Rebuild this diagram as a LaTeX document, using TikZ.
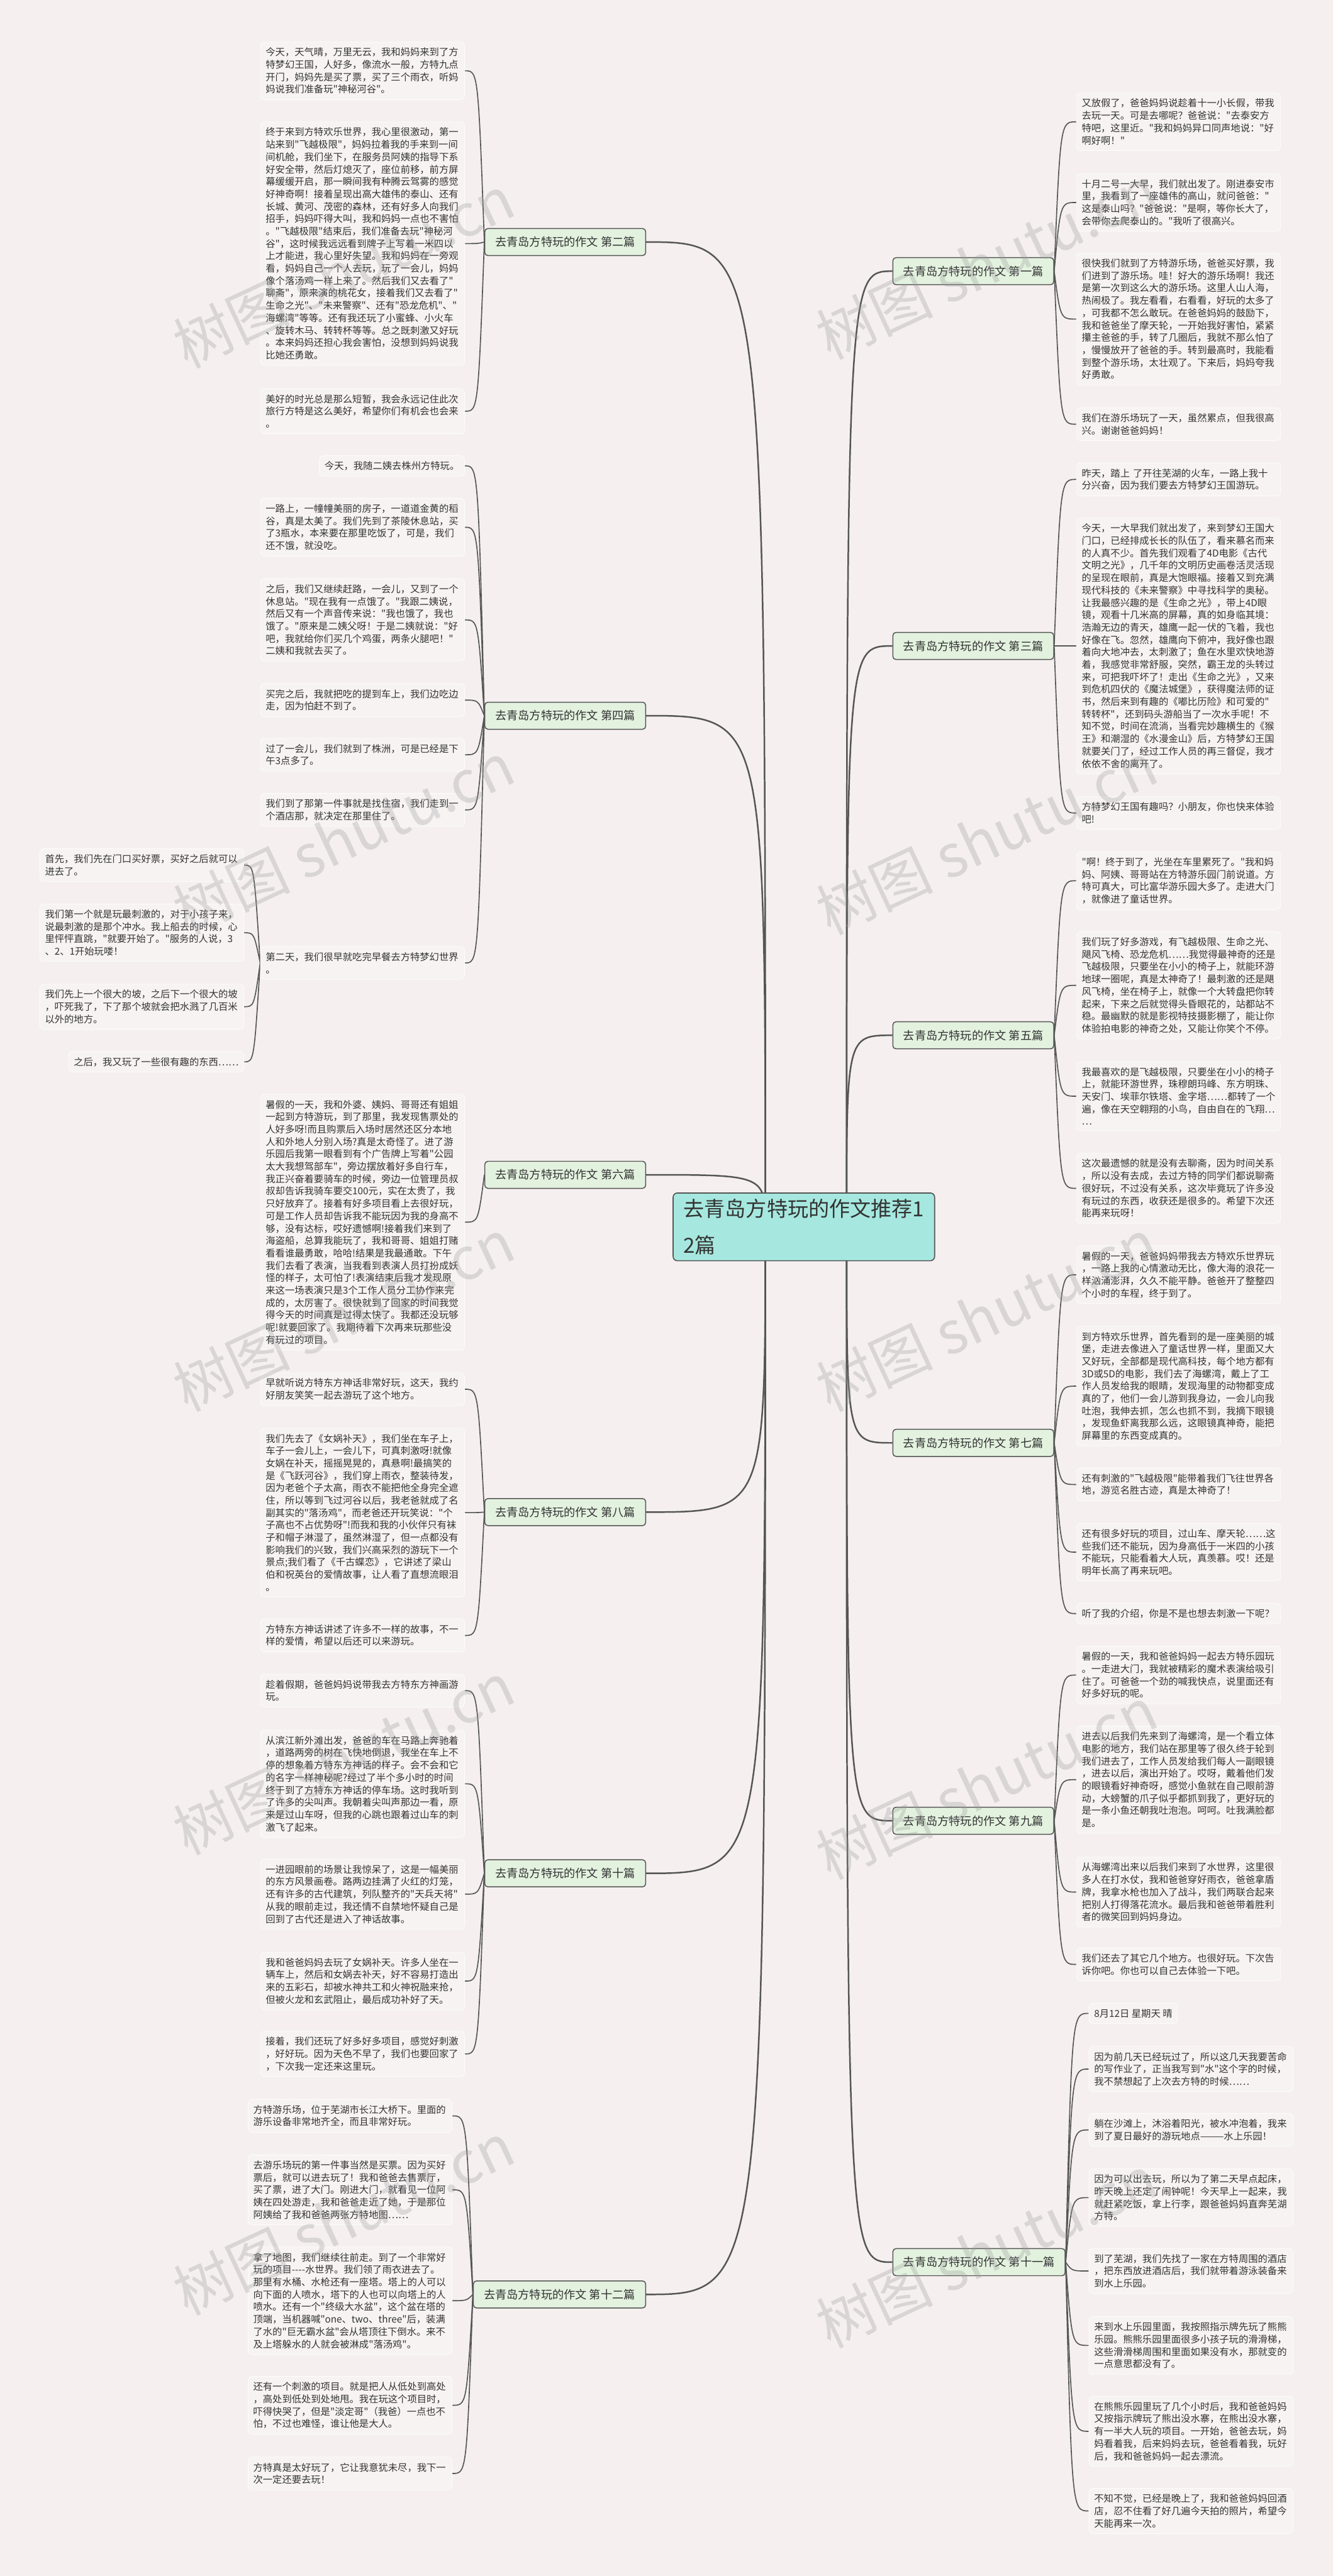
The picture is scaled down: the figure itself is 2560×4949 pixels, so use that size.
\documentclass[tikz,border=0pt]{standalone}
\usepackage{fontspec}
\newfontfamily\cjk{Noto Sans CJK SC}
\usetikzlibrary{calc, backgrounds}

\definecolor{pagebg}{HTML}{F5EFEF}
\definecolor{leaffill}{HTML}{F7F3F3}
\definecolor{leafline}{HTML}{FDFBFB}
\definecolor{inkgray}{HTML}{333333}
\definecolor{linkgray}{HTML}{555555}
\definecolor{branchfill}{HTML}{E3F2DF}
\definecolor{rootfill}{HTML}{A6E8DF}
\definecolor{wmgray}{HTML}{9A9A9A}

\newcommand\lffont{\cjk\fontsize{9.25pt}{11.9pt}\selectfont}
\newcommand\brfont{\cjk\fontsize{11pt}{13pt}\selectfont}
\newcommand\rtfont{\cjk\fontsize{20pt}{34.5pt}\selectfont}

\tikzset{
  leafbox/.style={draw=leafline, fill=leaffill, rounded corners=4pt, line width=0.6pt,
    text=inkgray, font=\lffont, align=left, inner xsep=5pt, inner ysep=5.5pt},
  leaf/.style={leafbox, text width=186pt},
  branch/.style={draw=linkgray, fill=branchfill, rounded corners=3pt, line width=0.9pt,
    text=inkgray, font=\brfont, inner xsep=10pt, minimum height=26pt},
  root/.style={draw=linkgray, fill=rootfill, rounded corners=4pt, line width=1pt,
    text=inkgray, font=\rtfont, align=left, inner xsep=10pt, inner ysep=6pt},
  link/.style={draw=linkgray, line width=1pt},
  trunk/.style={draw=linkgray, line width=1.5pt},
  wmark/.style={text=wmgray, opacity=0.3, font=\cjk\fontsize{56pt}{56pt}\selectfont, rotate=25}
}

\begin{document}
\begin{tikzpicture}[x=0.5pt, y=-0.5pt]
\begin{scope}[on background layer]
  \fill[pagebg] (0,0) rectangle (2560,4949);
\end{scope}
\path[use as bounding box] (0,0) rectangle (2560,4949);

% centre
\node[root] (root) at (1544,2357) {去青岛方特玩的作文推荐1\\2篇};
\coordinate (rootl) at (1470,2357);
\coordinate (rootr) at (1626,2357);

% branches, left
\node[branch, anchor=east] (e2) at (1241,465) {去青岛方特玩的作文 第二篇};
\node[branch, anchor=east] (e4) at (1241,1375) {去青岛方特玩的作文 第四篇};
\node[branch, anchor=east] (e6) at (1241,2257) {去青岛方特玩的作文 第六篇};
\node[branch, anchor=east] (e8) at (1241,2905) {去青岛方特玩的作文 第八篇};
\node[branch, anchor=east] (e10) at (1241,3599) {去青岛方特玩的作文 第十篇};
\node[branch, anchor=east] (e12) at (1241,4408) {去青岛方特玩的作文 第十二篇};
% branches, right
\node[branch, anchor=west] (e1) at (1714,521) {去青岛方特玩的作文 第一篇};
\node[branch, anchor=west] (e3) at (1714,1241) {去青岛方特玩的作文 第三篇};
\node[branch, anchor=west] (e5) at (1714,1989) {去青岛方特玩的作文 第五篇};
\node[branch, anchor=west] (e7) at (1714,2772) {去青岛方特玩的作文 第七篇};
\node[branch, anchor=west] (e9) at (1714,3498) {去青岛方特玩的作文 第九篇};
\node[branch, anchor=west] (e11) at (1714,4346) {去青岛方特玩的作文 第十一篇};

% essay 2
\node[leaf, anchor=east] (e2a) at (893,136) {今天，天气晴，万里无云，我和妈妈来到了方\\特梦幻王国，人好多，像流水一般，方特九点\\开门，妈妈先是买了票，买了三个雨衣，听妈\\妈说我们准备玩"神秘河谷"。};
\node[leaf, anchor=east] (e2b) at (893,468) {终于来到方特欢乐世界，我心里很激动，第一\\站来到"飞越极限"，妈妈拉着我的手来到一间\\间机舱，我们坐下，在服务员阿姨的指导下系\\好安全带，然后灯熄灭了，座位前移，前方屏\\幕缓缓开启，那一瞬间我有种腾云驾雾的感觉\\好神奇啊！接着呈现出高大雄伟的泰山、还有\\长城、黄河、茂密的森林，还有好多人向我们\\招手，妈妈吓得大叫，我和妈妈一点也不害怕\\。"飞越极限"结束后，我们准备去玩"神秘河\\谷"，这时候我远远看到牌子上写着一米四以\\上才能进，我心里好失望。我和妈妈在一旁观\\看，妈妈自己一个人去玩，玩了一会儿，妈妈\\像个落汤鸡一样上来了。然后我们又去看了"\\聊斋"，原来演的桃花女，接着我们又去看了"\\生命之光"、"未来警察"、还有"恐龙危机"、"\\海螺湾"等等。还有我还玩了小蜜蜂、小火车\\、旋转木马、转转杯等等。总之既刺激又好玩\\。本来妈妈还担心我会害怕，没想到妈妈说我\\比她还勇敢。};
\node[leaf, anchor=east] (e2c) at (893,790) {美好的时光总是那么短暂，我会永远记住此次\\旅行方特是这么美好，希望你们有机会也会来\\。};

% essay 4
\node[leafbox, anchor=east] (e4a) at (893,895) {今天，我随二姨去株州方特玩。};
\node[leaf, anchor=east] (e4b) at (893,1013) {一路上，一幢幢美丽的房子，一道道金黄的稻\\谷，真是太美了。我们先到了茶陵休息站，买\\了3瓶水，本来要在那里吃饭了，可是，我们\\还不饿，就没吃。};
\node[leaf, anchor=east] (e4c) at (893,1191) {之后，我们又继续赶路，一会儿，又到了一个\\休息站。"现在我有一点饿了。"我跟二姨说，\\然后又有一个声音传来说："我也饿了，我也\\饿了。"原来是二姨父呀！于是二姨就说："好\\吧，我就给你们买几个鸡蛋，两条火腿吧！"\\二姨和我就去买了。};
\node[leaf, anchor=east] (e4d) at (893,1345) {买完之后，我就把吃的提到车上，我们边吃边\\走，因为怕赶不到了。};
\node[leaf, anchor=east] (e4e) at (893,1450) {过了一会儿，我们就到了株洲，可是已经是下\\午3点多了。};
\node[leaf, anchor=east] (e4f) at (893,1556) {我们到了那第一件事就是找住宿，我们走到一\\个酒店那，就决定在那里住了。};
\node[leaf, anchor=east] (e4g) at (893,1850) {第二天，我们很早就吃完早餐去方特梦幻世界\\。};
\node[leaf, anchor=east] (e4g1) at (469,1662) {首先，我们先在门口买好票，买好之后就可以\\进去了。};
\node[leaf, anchor=east] (e4g2) at (469,1792) {我们第一个就是玩最刺激的，对于小孩子来，\\说最刺激的是那个冲水。我上船去的时候，心\\里怦怦直跳，"就要开始了。"服务的人说，3\\、2、1开始玩喽！};
\node[leaf, anchor=east] (e4g3) at (469,1934) {我们先上一个很大的坡，之后下一个很大的坡\\，吓死我了，下了那个坡就会把水溅了几百米\\以外的地方。};
\node[leafbox, anchor=east] (e4g4) at (469,2040) {之后，我又玩了一些很有趣的东西……};

% essay 6
\node[leaf, anchor=east] (e6a) at (893,2348) {暑假的一天，我和外婆、姨妈、哥哥还有姐姐\\一起到方特游玩，到了那里，我发现售票处的\\人好多呀!而且购票后入场时居然还区分本地\\人和外地人分别入场?真是太奇怪了。进了游\\乐园后我第一眼看到有个广告牌上写着"公园\\太大我想驾部车"，旁边摆放着好多自行车，\\我正兴奋着要骑车的时候，旁边一位管理员叔\\叔却告诉我骑车要交100元，实在太贵了，我\\只好放弃了。接着有好多项目看上去很好玩，\\可是工作人员却告诉我不能玩因为我的身高不\\够，没有达标，哎好遗憾啊!接着我们来到了\\海盗船，总算我能玩了，我和哥哥、姐姐打赌\\看看谁最勇敢，哈哈!结果是我最通敢。下午\\我们去看了表演，当我看到表演人员打扮成妖\\怪的样子，太可怕了!表演结束后我才发现原\\来这一场表演只是3个工作人员分工协作来完\\成的，太厉害了。很快就到了回家的时间我觉\\得今天的时间真是过得太快了。我都还没玩够\\呢!就要回家了。我期待着下次再来玩那些没\\有玩过的项目。};

% essay 8
\node[leaf, anchor=east] (e8a) at (893,2669) {早就听说方特东方神话非常好玩，这天，我约\\好朋友笑笑一起去游玩了这个地方。};
\node[leaf, anchor=east] (e8b) at (893,2906) {我们先去了《女娲补天》，我们坐在车子上，\\车子一会儿上，一会儿下，可真刺激呀!就像\\女娲在补天，摇摇晃晃的，真悬啊!最搞笑的\\是《飞跃河谷》，我们穿上雨衣，整装待发，\\因为老爸个子太高，雨衣不能把他全身完全遮\\住，所以等到飞过河谷以后，我老爸就成了名\\副其实的"落汤鸡"，而老爸还开玩笑说："个\\子高也不占优势呀"!而我和我的小伙伴只有袜\\子和帽子淋湿了，虽然淋湿了，但一点都没有\\影响我们的兴致，我们兴高采烈的游玩下一个\\景点;我们看了《千古蝶恋》，它讲述了梁山\\伯和祝英台的爱情故事，让人看了直想流眼泪\\。};
\node[leaf, anchor=east] (e8c) at (893,3142) {方特东方神话讲述了许多不一样的故事，不一\\样的爱情，希望以后还可以来游玩。};

% essay 10
\node[leaf, anchor=east] (e10a) at (893,3248) {趁着假期，爸爸妈妈说带我去方特东方神画游\\玩。};
\node[leaf, anchor=east] (e10b) at (893,3427) {从滨江新外滩出发，爸爸的车在马路上奔驰着\\，道路两旁的树在飞快地倒退，我坐在车上不\\停的想象着方特东方神话的样子。会不会和它\\的名字一样神秘呢?经过了半个多小时的时间\\终于到了方特东方神话的停车场。这时我听到\\了许多的尖叫声。我朝着尖叫声那边一看，原\\来是过山车呀，但我的心跳也跟着过山车的刺\\激飞了起来。};
\node[leaf, anchor=east] (e10c) at (893,3639) {一进园眼前的场景让我惊呆了，这是一幅美丽\\的东方风景画卷。路两边挂满了火红的灯笼，\\还有许多的古代建筑，列队整齐的"天兵天将"\\从我的眼前走过，我还情不自禁地怀疑自己是\\回到了古代还是进入了神话故事。};
\node[leaf, anchor=east] (e10d) at (893,3806) {我和爸爸妈妈去玩了女娲补天。许多人坐在一\\辆车上，然后和女娲去补天，好不容易打造出\\来的五彩石，却被水神共工和火神祝融来抢，\\但被火龙和玄武阻止，最后成功补好了天。};
\node[leaf, anchor=east] (e10e) at (893,3946) {接着，我们还玩了好多好多项目，感觉好刺激\\，好好玩。因为天色不早了，我们也要回家了\\，下次我一定还来这里玩。};

% essay 12
\node[leaf, anchor=east] (e12a) at (869,4065) {方特游乐场，位于芜湖市长江大桥下。里面的\\游乐设备非常地齐全，而且非常好玩。};
\node[leaf, anchor=east] (e12b) at (869,4207) {去游乐场玩的第一件事当然是买票。因为买好\\票后，就可以进去玩了！我和爸爸去售票厅，\\买了票，进了大门。刚进大门，就看见一位阿\\姨在四处游走，我和爸爸走近了她，于是那位\\阿姨给了我和爸爸两张方特地图……};
\node[leaf, anchor=east] (e12c) at (869,4420) {拿了地图，我们继续往前走。到了一个非常好\\玩的项目----水世界。我们领了雨衣进去了。\\那里有水桶、水枪还有一座塔。塔上的人可以\\向下面的人喷水，塔下的人也可以向塔上的人\\喷水。还有一个"终级大水盆"，这个盆在塔的\\顶端，当机器喊"one、two、three"后，装满\\了水的"巨无霸水盆"会从塔顶往下倒水。来不\\及上塔躲水的人就会被淋成"落汤鸡"。};
\node[leaf, anchor=east] (e12d) at (869,4621) {还有一个刺激的项目。就是把人从低处到高处\\，高处到低处到处地甩。我在玩这个项目时，\\吓得快哭了，但是"淡定哥"（我爸）一点也不\\怕，不过也难怪，谁让他是大人。};
\node[leaf, anchor=east] (e12e) at (869,4752) {方特真是太好玩了，它让我意犹未尽，我下一\\次一定还要去玩！};

% essay 1
\node[leaf, anchor=west] (e1a) at (2067,234) {又放假了，爸爸妈妈说趁着十一小长假，带我\\去玩一天。可是去哪呢？爸爸说："去泰安方\\特吧，这里近。"我和妈妈异口同声地说："好\\啊好啊！"};
\node[leaf, anchor=west] (e1b) at (2067,389) {十月二号一大早，我们就出发了。刚进泰安市\\里，我看到了一座雄伟的高山，就问爸爸："\\这是泰山吗？"爸爸说："是啊，等你长大了，\\会带你去爬泰山的。"我听了很高兴。};
\node[leaf, anchor=west] (e1c) at (2067,613) {很快我们就到了方特游乐场，爸爸买好票，我\\们进到了游乐场。哇！好大的游乐场啊！我还\\是第一次到这么大的游乐场。这里人山人海，\\热闹极了。我左看看，右看看，好玩的太多了\\，可我都不怎么敢玩。在爸爸妈妈的鼓励下，\\我和爸爸坐了摩天轮，一开始我好害怕，紧紧\\攥主爸爸的手，转了几圈后，我就不那么怕了\\，慢慢放开了爸爸的手。转到最高时，我能看\\到整个游乐场，太壮观了。下来后，妈妈夸我\\好勇敢。};
\node[leaf, anchor=west] (e1d) at (2067,815) {我们在游乐场玩了一天，虽然累点，但我很高\\兴。谢谢爸爸妈妈！};

% essay 3
\node[leaf, anchor=west] (e3a) at (2067,921) {昨天，踏上 了开往芜湖的火车，一路上我十\\分兴奋，因为我们要去方特梦幻王国游玩。};
\node[leaf, anchor=west] (e3b) at (2067,1241) {今天，一大早我们就出发了，来到梦幻王国大\\门口，已经排成长长的队伍了，看来慕名而来\\的人真不少。首先我们观看了4D电影《古代\\文明之光》，几千年的文明历史画卷活灵活现\\的呈现在眼前，真是大饱眼福。接着又到充满\\现代科技的《未来警察》中寻找科学的奥秘。\\让我最感兴趣的是《生命之光》，带上4D眼\\镜，观看十几米高的屏幕，真的如身临其境：\\浩瀚无边的青天，雄鹰一起一伏的飞着，我也\\好像在飞。忽然，雄鹰向下俯冲，我好像也跟\\着向大地冲去，太刺激了；鱼在水里欢快地游\\着，我感觉非常舒服，突然，霸王龙的头转过\\来，可把我吓坏了！走出《生命之光》，又来\\到危机四伏的《魔法城堡》，获得魔法师的证\\书，然后来到有趣的《嘟比历险》和可爱的"\\转转杯"，还到码头游船当了一次水手呢！不\\知不觉，时间在流淌，当看完妙趣横生的《猴\\王》和潮湿的《水漫金山》后，方特梦幻王国\\就要关门了，经过工作人员的再三督促，我才\\依依不舍的离开了。};
\node[leaf, anchor=west] (e3c) at (2067,1562) {方特梦幻王国有趣吗？小朋友，你也快来体验\\吧!};

% essay 5
\node[leaf, anchor=west] (e5a) at (2067,1692) {"啊！终于到了，光坐在车里累死了。"我和妈\\妈、阿姨、哥哥站在方特游乐园门前说道。方\\特可真大，可比富华游乐园大多了。走进大门\\，就像进了童话世界。};
\node[leaf, anchor=west] (e5b) at (2067,1893) {我们玩了好多游戏，有飞越极限、生命之光、\\飓风飞椅、恐龙危机……我觉得最神奇的还是\\飞越极限，只要坐在小小的椅子上，就能环游\\地球一圈呢，真是太神奇了！最刺激的还是飓\\风飞椅，坐在椅子上，就像一个大转盘把你转\\起来，下来之后就觉得头昏眼花的，站都站不\\稳。最幽默的就是影视特技摄影棚了，能让你\\体验拍电影的神奇之处，又能让你笑个不停。};
\node[leaf, anchor=west] (e5c) at (2067,2106) {我最喜欢的是飞越极限，只要坐在小小的椅子\\上，就能环游世界，珠穆朗玛峰、东方明珠、\\天安门、埃菲尔铁塔、金字塔……都转了一个\\遍，像在天空翱翔的小鸟，自由自在的飞翔…\\…};
\node[leaf, anchor=west] (e5d) at (2067,2283) {这次最遗憾的就是没有去聊斋，因为时间关系\\，所以没有去成，去过方特的同学们都说聊斋\\很好玩，不过没有关系，这次毕竟玩了许多没\\有玩过的东西，收获还是很多的。希望下次还\\能再来玩呀！};

% essay 7
\node[leaf, anchor=west] (e7a) at (2067,2449) {暑假的一天，爸爸妈妈带我去方特欢乐世界玩\\，一路上我的心情激动无比，像大海的浪花一\\样汹涌澎湃，久久不能平静。爸爸开了整整四\\个小时的车程，终于到了。};
\node[leaf, anchor=west] (e7b) at (2067,2663) {到方特欢乐世界，首先看到的是一座美丽的城\\堡，走进去像进入了童话世界一样，里面又大\\又好玩，全部都是现代高科技，每个地方都有\\3D或5D的电影，我们去了海螺湾，戴上了工\\作人员发给我的眼睛，发现海里的动物都变成\\真的了，他们一会儿游到我身边，一会儿向我\\吐泡，我伸去抓，怎么也抓不到，我摘下眼镜\\，发现鱼虾离我那么远，这眼镜真神奇，能把\\屏幕里的东西变成真的。};
\node[leaf, anchor=west] (e7c) at (2067,2852) {还有刺激的"飞越极限"能带着我们飞往世界各\\地，游览名胜古迹，真是太神奇了！};
\node[leaf, anchor=west] (e7d) at (2067,2982) {还有很多好玩的项目，过山车、摩天轮……这\\些我们还不能玩，因为身高低于一米四的小孩\\不能玩，只能看着大人玩，真羡慕。哎！还是\\明年长高了再来玩吧。};
\node[leaf, anchor=west] (e7e) at (2067,3100) {听了我的介绍，你是不是也想去刺激一下呢？};

% essay 9
\node[leaf, anchor=west] (e9a) at (2067,3218) {暑假的一天，我和爸爸妈妈一起去方特乐园玩\\。一走进大门，我就被精彩的魔术表演给吸引\\住了。可爸爸一个劲的喊我快点，说里面还有\\好多好玩的呢。};
\node[leaf, anchor=west] (e9b) at (2067,3419) {进去以后我们先来到了海螺湾，是一个看立体\\电影的地方，我们站在那里等了很久终于轮到\\我们进去了，工作人员发给我们每人一副眼镜\\，进去以后，演出开始了。哎呀，戴着他们发\\的眼镜看好神奇呀，感觉小鱼就在自己眼前游\\动，大螃蟹的爪子似乎都抓到我了，更好玩的\\是一条小鱼还朝我吐泡泡。呵呵。吐我满脸都\\是。};
\node[leaf, anchor=west] (e9c) at (2067,3635) {从海螺湾出来以后我们来到了水世界，这里很\\多人在打水仗，我和爸爸穿好雨衣，爸爸拿盾\\牌，我拿水枪也加入了战斗，我们两联合起来\\把别人打得落花流水。最后我和爸爸带着胜利\\者的微笑回到妈妈身边。};
\node[leaf, anchor=west] (e9d) at (2067,3774) {我们还去了其它几个地方。也很好玩。下次告\\诉你吧。你也可以自己去体验一下吧。};

% essay 11
\node[leafbox, anchor=west] (e11a) at (2091,3868) {8月12日 星期天 晴};
\node[leaf, anchor=west] (e11b) at (2091,3975) {因为前几天已经玩过了，所以这几天我要苦命\\的写作业了，正当我写到"水"这个字的时候，\\我不禁想起了上次去方特的时候……};
\node[leaf, anchor=west] (e11c) at (2091,4092) {躺在沙滩上，沐浴着阳光，被水冲泡着，我来\\到了夏日最好的游玩地点———水上乐园！};
\node[leaf, anchor=west] (e11d) at (2091,4222) {因为可以出去玩，所以为了第二天早点起床，\\昨天晚上还定了闹钟呢！今天早上一起来，我\\就赶紧吃饭，拿上行李，跟爸爸妈妈直奔芜湖\\方特。};
\node[leaf, anchor=west] (e11e) at (2091,4363) {到了芜湖，我们先找了一家在方特周围的酒店\\，把东西放进酒店后，我们就带着游泳装备来\\到水上乐园。};
\node[leaf, anchor=west] (e11f) at (2091,4506) {来到水上乐园里面，我按照指示牌先玩了熊熊\\乐园。熊熊乐园里面很多小孩子玩的滑滑梯，\\这些滑滑梯周围和里面如果没有水，那就变的\\一点意思都没有了。};
\node[leaf, anchor=west] (e11g) at (2091,4671) {在熊熊乐园里玩了几个小时后，我和爸爸妈妈\\又按指示牌玩了熊出没水寨，在熊出没水寨，\\有一半大人玩的项目。一开始，爸爸去玩，妈\\妈看着我，后来妈妈去玩，爸爸看着我，玩好\\后，我和爸爸妈妈一起去漂流。};
\node[leaf, anchor=west] (e11h) at (2091,4824) {不知不觉，已经是晚上了，我和爸爸妈妈回酒\\店，忍不住看了好几遍今天拍的照片，希望今\\天能再来一次。};

% connectors
\begin{scope}[on background layer]
  \foreach \b in {e2,e4,e6,e8,e10,e12}
    \draw[trunk] (rootl) .. controls (rootl |- \b.east) .. (\b.east);
  \foreach \b in {e1,e3,e5,e7,e9,e11}
    \draw[trunk] (rootr) .. controls (rootr |- \b.west) .. (\b.west);
  \foreach \l in {e2a,e2b,e2c}
    \draw[link] (e2.west) .. controls ($(e2.west |- \l.east)+(-12,0)$) .. (\l.east);
  \foreach \l in {e4a,e4b,e4c,e4d,e4e,e4f,e4g}
    \draw[link] (e4.west) .. controls ($(e4.west |- \l.east)+(-12,0)$) .. (\l.east);
  \foreach \l in {e4g1,e4g2,e4g3,e4g4}
    \draw[link] (e4g.west) .. controls ($(e4g.west |- \l.east)+(-12,0)$) .. (\l.east);
  \draw[link] (e6.west) .. controls ($(e6.west |- e6a.east)+(-12,0)$) .. (e6a.east);
  \foreach \l in {e8a,e8b,e8c}
    \draw[link] (e8.west) .. controls ($(e8.west |- \l.east)+(-12,0)$) .. (\l.east);
  \foreach \l in {e10a,e10b,e10c,e10d,e10e}
    \draw[link] (e10.west) .. controls ($(e10.west |- \l.east)+(-12,0)$) .. (\l.east);
  \foreach \l in {e12a,e12b,e12c,e12d,e12e}
    \draw[link] (e12.west) .. controls ($(e12.west |- \l.east)+(-12,0)$) .. (\l.east);
  \foreach \l in {e1a,e1b,e1c,e1d}
    \draw[link] (e1.east) .. controls ($(e1.east |- \l.west)+(12,0)$) .. (\l.west);
  \foreach \l in {e3a,e3b,e3c}
    \draw[link] (e3.east) .. controls ($(e3.east |- \l.west)+(12,0)$) .. (\l.west);
  \foreach \l in {e5a,e5b,e5c,e5d}
    \draw[link] (e5.east) .. controls ($(e5.east |- \l.west)+(12,0)$) .. (\l.west);
  \foreach \l in {e7a,e7b,e7c,e7d,e7e}
    \draw[link] (e7.east) .. controls ($(e7.east |- \l.west)+(12,0)$) .. (\l.west);
  \foreach \l in {e9a,e9b,e9c,e9d}
    \draw[link] (e9.east) .. controls ($(e9.east |- \l.west)+(12,0)$) .. (\l.west);
  \foreach \l in {e11a,e11b,e11c,e11d,e11e,e11f,e11g,e11h}
    \draw[link] (e11.east) .. controls ($(e11.east |- \l.west)+(12,0)$) .. (\l.west);
\end{scope}

% watermark
\foreach \wx/\wy in {660/521,1895/505,660/1610,1895/1610,660/2526,1895/2526,660/3378,1895/3425,660/4262,1895/4325}
  \node[wmark] (wm) at (\wx,\wy) {树图 shutu.cn};
\end{tikzpicture}
\end{document}
